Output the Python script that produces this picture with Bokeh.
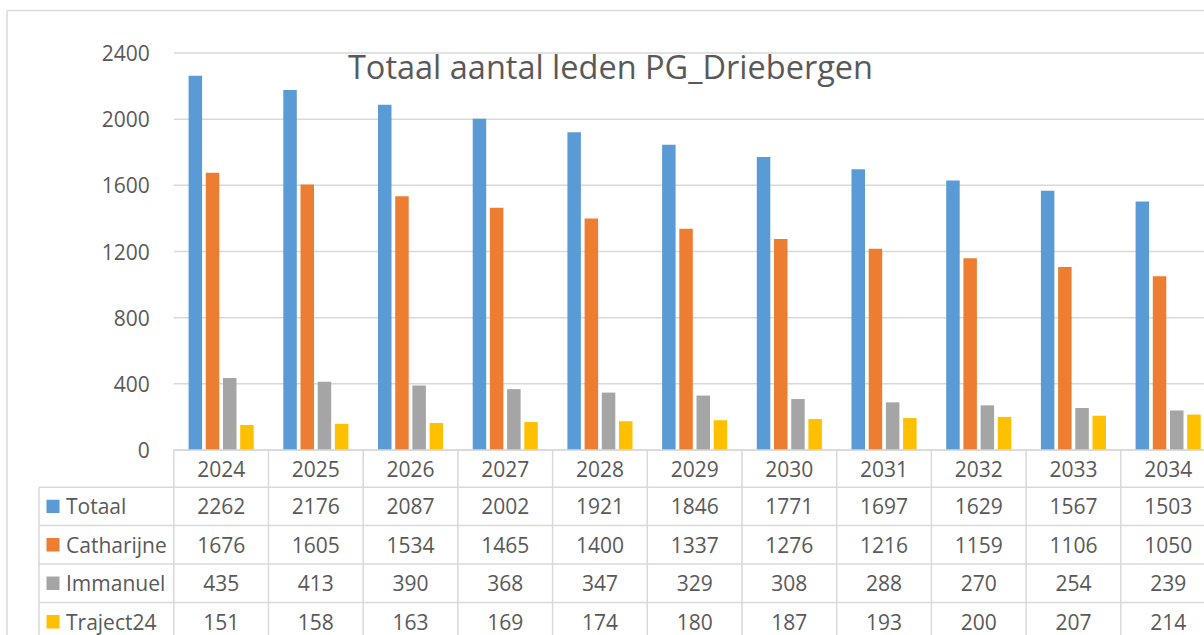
from bokeh.plotting import figure
from bokeh.models import Range1d, FixedTicker, ColumnDataSource, Label, LinearAxis
from bokeh.core.properties import value
from bokeh.embed import file_html
from bokeh.resources import INLINE

# ---------------- data ----------------
years = ["2024", "2025", "2026", "2027", "2028", "2029", "2030", "2031", "2032", "2033", "2034"]
series_names = ["Totaal", "Catharijne", "Immanuel", "Traject24"]
totaal = [2262, 2176, 2087, 2002, 1921, 1846, 1771, 1697, 1629, 1567, 1503]
catharijne = [1676, 1605, 1534, 1465, 1400, 1337, 1276, 1216, 1159, 1106, 1050]
immanuel = [435, 413, 390, 368, 347, 329, 308, 288, 270, 254, 239]
traject24 = [151, 158, 163, 169, 174, 180, 187, 193, 200, 207, 214]
y_ticks = [0, 400, 800, 1200, 1600, 2000, 2400]
title_text = "Totaal aantal leden PG_Driebergen"

# ---------------- style / layout ----------------
colors = ["#5B9BD5", "#ED7D31", "#A5A5A5", "#FFC000"]
series = [totaal, catharijne, immanuel, traject24]
TEXT = "#595959"
LINE = "#D9D9D9"
FONT = "Open Sans"
FS = "21px"

W, H = 1204, 635
PLOT_L = 173.3           # px of the plot area's left edge
CAT_W = 94.7             # px per category
ZERO_Y = 449.5           # px of value 0
TOP_Y = 52.5             # px of top tick
UPP = (y_ticks[-1] - y_ticks[0]) / (ZERO_Y - TOP_Y)   # data units per px
ROW_EDGES = [449.5, 486.7, 525.0, 563.6, 602.0, 640.5]
LEG_L = 38.5


def px2x(px):
    return (px - PLOT_L) / CAT_W - 0.5


def py2y(py):
    return (ZERO_Y - py) * UPP


n = len(years)
idx = list(range(n))

p = figure(width=W, height=H, output_backend="svg", toolbar_location=None,
           x_range=Range1d(px2x(0), px2x(W)),
           y_range=Range1d(py2y(H), py2y(0)),
           x_axis_location=None, y_axis_location=None,
           min_border_left=0, min_border_right=0, min_border_top=0, min_border_bottom=0)
p.title.visible = False
p.outline_line_color = None
p.background_fill_color = "white"
p.border_fill_color = "white"
p.grid.visible = False

# value axis, drawn at the left edge of the plot area
ax = LinearAxis(ticker=FixedTicker(ticks=y_ticks), fixed_location=-0.5)
ax.axis_line_color = None
ax.major_tick_line_color = None
ax.minor_tick_line_color = None
ax.major_label_text_font = FONT
ax.major_label_text_font_size = FS
ax.major_label_text_color = TEXT
ax.major_label_standoff = 18
p.add_layout(ax, "left")

# horizontal gridlines across the plot area
gsrc = ColumnDataSource(dict(x0=[-0.5] * len(y_ticks), x1=[n - 0.5] * len(y_ticks),
                             y0=y_ticks, y1=y_ticks))
p.segment(x0="x0", y0="y0", x1="x1", y1="y1", source=gsrc, line_color=LINE, line_width=1.5)

# ---------------- bars ----------------
bar_w = 13.5 / CAT_W
step = 17.2 / CAT_W
for k, (name, vals, col) in enumerate(zip(series_names, series, colors)):
    off = (k - 1.5) * step
    src = ColumnDataSource(dict(x=[i + off for i in idx], top=vals))
    p.vbar(x="x", top="top", bottom=0, width=bar_w, source=src,
           fill_color=col, line_color=None)

# ---------------- data table ----------------
x_left = -0.5
x_leg = px2x(LEG_L)
x_right = n - 0.5
y_bot = py2y(ROW_EDGES[-1])
hx0 = [x_left] + [x_leg] * (len(ROW_EDGES) - 1)
hs = ColumnDataSource(dict(x0=hx0, x1=[x_right] * len(ROW_EDGES),
                           y0=[py2y(e) for e in ROW_EDGES], y1=[py2y(e) for e in ROW_EDGES]))
p.segment(x0="x0", y0="y0", x1="x1", y1="y1", source=hs, line_color=LINE, line_width=1.5)
vx = [i - 0.5 for i in range(n + 1)]
vs = ColumnDataSource(dict(x0=vx + [x_leg], x1=vx + [x_leg],
                           y0=[0] * (n + 1) + [py2y(ROW_EDGES[1])],
                           y1=[y_bot] * (n + 2)))
p.segment(x0="x0", y0="y0", x1="x1", y1="y1", source=vs, line_color=LINE, line_width=1.5)

txt_kw = dict(text_align="center", text_baseline="middle", text_font=value(FONT),
              text_font_size=FS, text_color=TEXT)
hy = py2y((ROW_EDGES[0] + ROW_EDGES[1]) / 2)
p.text(x=idx, y=[hy] * n, text=years, **txt_kw)
row_cy = [py2y((ROW_EDGES[r + 1] + ROW_EDGES[r + 2]) / 2) for r in range(len(series))]
for r, vals in enumerate(series):
    p.text(x=idx, y=[row_cy[r]] * n, text=[str(v) for v in vals], **txt_kw)

# legend keys and names in the table's first column
ksrc = ColumnDataSource(dict(left=[px2x(46)] * 4, right=[px2x(59)] * 4,
                             bottom=[c - 6.7 * UPP for c in row_cy],
                             top=[c + 6.7 * UPP for c in row_cy], color=colors))
p.quad(left="left", right="right", bottom="bottom", top="top", source=ksrc,
       fill_color="color", line_color=None)
p.text(x=[px2x(65.5)] * len(series_names), y=row_cy, text=series_names,
       text_align="left", text_baseline="middle", text_font=value(FONT),
       text_font_size=FS, text_color=TEXT)

# ---------------- chart border ----------------
bsrc = ColumnDataSource(dict(x0=[px2x(6.5), px2x(6.5)], x1=[px2x(6.5), px2x(1300)],
                             y0=[py2y(10), py2y(10)], y1=[py2y(700), py2y(10)]))
p.segment(x0="x0", y0="y0", x1="x1", y1="y1", source=bsrc, line_color=LINE, line_width=1.5)

# ---------------- title ----------------
p.add_layout(Label(x=px2x(610), y=py2y(65.5), text=title_text, text_align="center",
                   text_baseline="alphabetic", text_font=FONT, text_font_size="32.5px",
                   text_color=TEXT))

open("out.html", "w").write(file_html(p, INLINE))
